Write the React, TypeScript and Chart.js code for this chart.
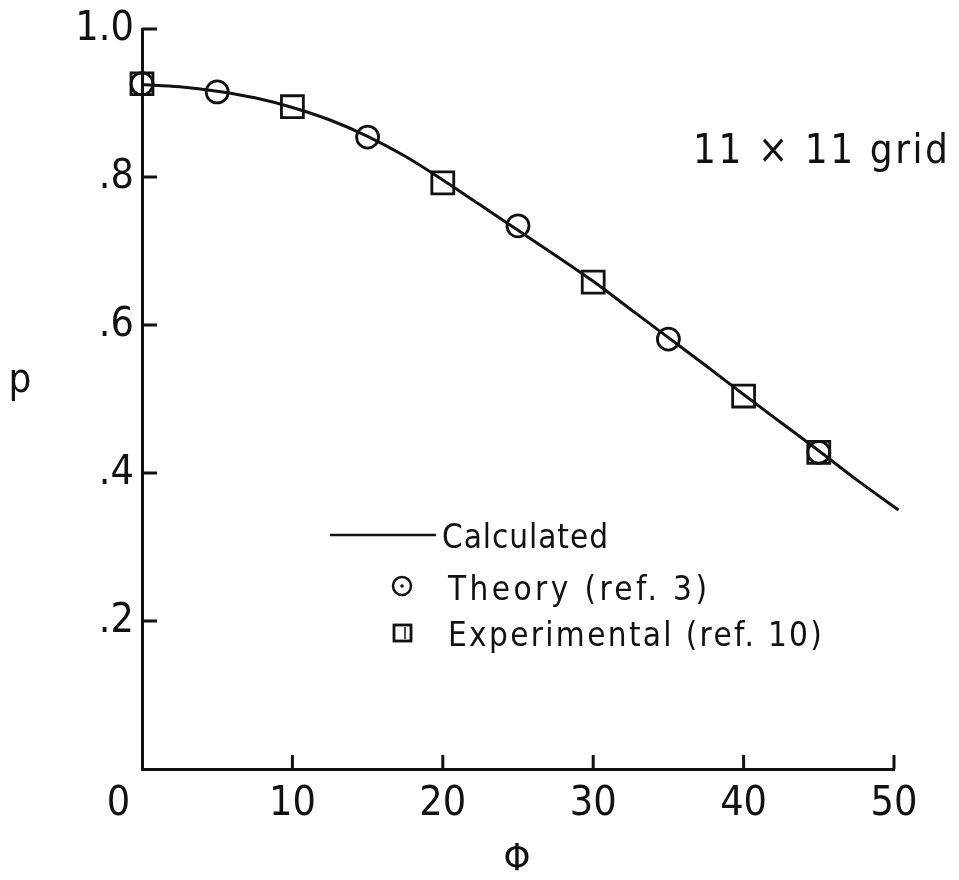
import React, { useEffect, useRef } from 'react';
import { Chart, registerables } from 'chart.js';

Chart.register(...registerables);

// ---- data ----
const calcPhi = [0, 2.5, 5, 7.5, 10, 12.5, 15, 17.5, 20, 22.5, 25, 27.5, 30, 32.5, 35, 37.5, 40, 42.5, 45, 47.5, 50.3];
const calcP = [0.925, 0.922, 0.916, 0.907, 0.894, 0.877, 0.855, 0.828, 0.796, 0.762, 0.728, 0.694, 0.659, 0.621, 0.583, 0.545, 0.506, 0.468, 0.43, 0.391, 0.35];
const theoryPhi = [0, 5, 15, 25, 35, 45];
const theoryP = [0.926, 0.915, 0.854, 0.734, 0.581, 0.428];
const expPhi = [0, 10, 20, 30, 40, 45];
const expP = [0.926, 0.895, 0.792, 0.658, 0.504, 0.428];
const xTickValues = [0, 10, 20, 30, 40, 50];
const yTickValues = [0.2, 0.4, 0.6, 0.8, 1.0];
const legendLabels = ['Calculated', 'Theory (ref. 3)', 'Experimental (ref. 10)'];
const gridNote = '11 \u00d7 11 grid';
const xTitle = '\u03a6';
const yTitle = 'p';

const FONT = '"Liberation Sans Narrow", "DejaVu Sans Condensed", "Liberation Sans", sans-serif';
const INK = '#111';

function fitText(ctx: CanvasRenderingContext2D, text: string, x: number, y: number, width: number) {
  ctx.save();
  (ctx as any).letterSpacing = '0px';
  const w = ctx.measureText(text).width;
  const sp = text.length > 1 ? (width - w) / (text.length - 1) : 0;
  (ctx as any).letterSpacing = sp.toFixed(2) + 'px';
  ctx.textAlign = 'left';
  ctx.fillText(text, x, y);
  ctx.restore();
}

const annotations = {
  id: 'annotations',
  afterDraw(chart: any) {
    const ctx: CanvasRenderingContext2D = chart.ctx;
    const xs = chart.scales.x;
    const ys = chart.scales.y;
    const area = chart.chartArea;
    ctx.save();
    ctx.strokeStyle = INK;
    ctx.fillStyle = INK;
    ctx.lineWidth = 3;
    // inward ticks
    xTickValues.forEach((v) => {
      if (v === 0) return;
      const px = xs.getPixelForValue(v);
      ctx.beginPath();
      ctx.moveTo(px, area.bottom);
      ctx.lineTo(px, area.bottom - 14);
      ctx.stroke();
    });
    yTickValues.forEach((v) => {
      const py = ys.getPixelForValue(v);
      ctx.beginPath();
      ctx.moveTo(area.left, py);
      ctx.lineTo(area.left + 15, py);
      ctx.stroke();
    });

    // axis titles
    ctx.textBaseline = 'alphabetic';
    ctx.font = '40px ' + FONT;
    ctx.textAlign = 'center';
    ctx.fillText(yTitle, 20, 392);
    ctx.font = '38px ' + FONT;
    ctx.fillText(xTitle, 517, 870);

    // grid note
    ctx.font = '40px ' + FONT;
    fitText(ctx, gridNote, 693, 163, 255);

    // legend
    ctx.font = '33px ' + FONT;
    ctx.lineWidth = 2.5;
    ctx.beginPath();
    ctx.moveTo(330, 535);
    ctx.lineTo(436, 535);
    ctx.stroke();
    fitText(ctx, legendLabels[0], 442, 548, 166);

    ctx.beginPath();
    ctx.arc(402, 586, 9, 0, Math.PI * 2);
    ctx.stroke();
    ctx.beginPath();
    ctx.arc(402, 586, 1.8, 0, Math.PI * 2);
    ctx.fill();
    fitText(ctx, legendLabels[1], 448, 600, 259);

    ctx.lineWidth = 2.8;
    ctx.strokeRect(394, 625, 17, 16);
    ctx.lineWidth = 1.5;
    ctx.beginPath();
    ctx.moveTo(405, 627);
    ctx.lineTo(405, 639);
    ctx.stroke();
    fitText(ctx, legendLabels[2], 448, 646, 374);
    ctx.restore();
  },
};

export default function App() {
  const canvasRef = useRef<HTMLCanvasElement | null>(null);

  useEffect(() => {
    const canvas = canvasRef.current;
    if (!canvas) return;
    const calcData = calcPhi.map((x, i) => ({ x, y: calcP[i] }));
    const theoryData = theoryPhi.map((x, i) => ({ x, y: theoryP[i] }));
    const expData = expPhi.map((x, i) => ({ x, y: expP[i] }));

    const chart = new Chart(canvas, {
      type: 'scatter',
      data: {
        datasets: [
          {
            label: legendLabels[0],
            data: calcData,
            showLine: true,
            borderColor: INK,
            borderWidth: 3,
            pointRadius: 0,
            cubicInterpolationMode: 'monotone',
            fill: false,
            clip: false,
          } as any,
          {
            label: legendLabels[2],
            data: expData,
            pointStyle: 'rect',
            pointRadius: 15.5,
            borderColor: INK,
            backgroundColor: 'rgba(0,0,0,0)',
            borderWidth: 2.8,
            showLine: false,
            clip: false,
          } as any,
          {
            label: legendLabels[1],
            data: theoryData,
            pointStyle: 'circle',
            pointRadius: 11,
            borderColor: INK,
            backgroundColor: 'rgba(0,0,0,0)',
            borderWidth: 2.8,
            showLine: false,
            clip: false,
          } as any,
        ],
      },
      options: {
        responsive: false,
        animation: false,
        maintainAspectRatio: false,
        layout: { padding: { top: 29, right: 65, left: 0, bottom: 0 } },
        plugins: {
          legend: { display: false },
          tooltip: { enabled: false },
          title: { display: false },
        },
        scales: {
          x: {
            type: 'linear',
            min: 0,
            max: 50,
            afterFit: (s: any) => { s.height = 111; },
            afterBuildTicks: (s: any) => { s.ticks = xTickValues.map((value) => ({ value })); },
            ticks: {
              color: INK,
              font: { family: FONT, size: 41 },
              padding: 3,
              maxRotation: 0,
              autoSkip: false,
              callback: (v: any) => (v === 0 ? '0    ' : String(v)),
            },
            grid: { display: false },
            border: { display: true, color: INK, width: 3 },
          },
          y: {
            type: 'linear',
            min: 0,
            max: 1,
            afterFit: (s: any) => { s.width = 142; },
            afterBuildTicks: (s: any) => { s.ticks = yTickValues.map((value) => ({ value })); },
            ticks: {
              color: INK,
              font: { family: FONT, size: 41 },
              padding: 0,
              autoSkip: false,
              callback: (v: any) => {
                const n = Math.round(Number(v) * 10);
                return n === 10 ? '1.0' : '.' + n;
              },
            },
            grid: { display: false },
            border: { display: true, color: INK, width: 3 },
          },
        },
      },
      plugins: [annotations],
    });
    return () => chart.destroy();
  }, []);

  return (
    <div style={{ position: 'absolute', left: 0, top: 0, width: 959, height: 880, background: '#fff' }}>
      <canvas ref={canvasRef} width={959} height={880} style={{ display: 'block' }} />
    </div>
  );
}
